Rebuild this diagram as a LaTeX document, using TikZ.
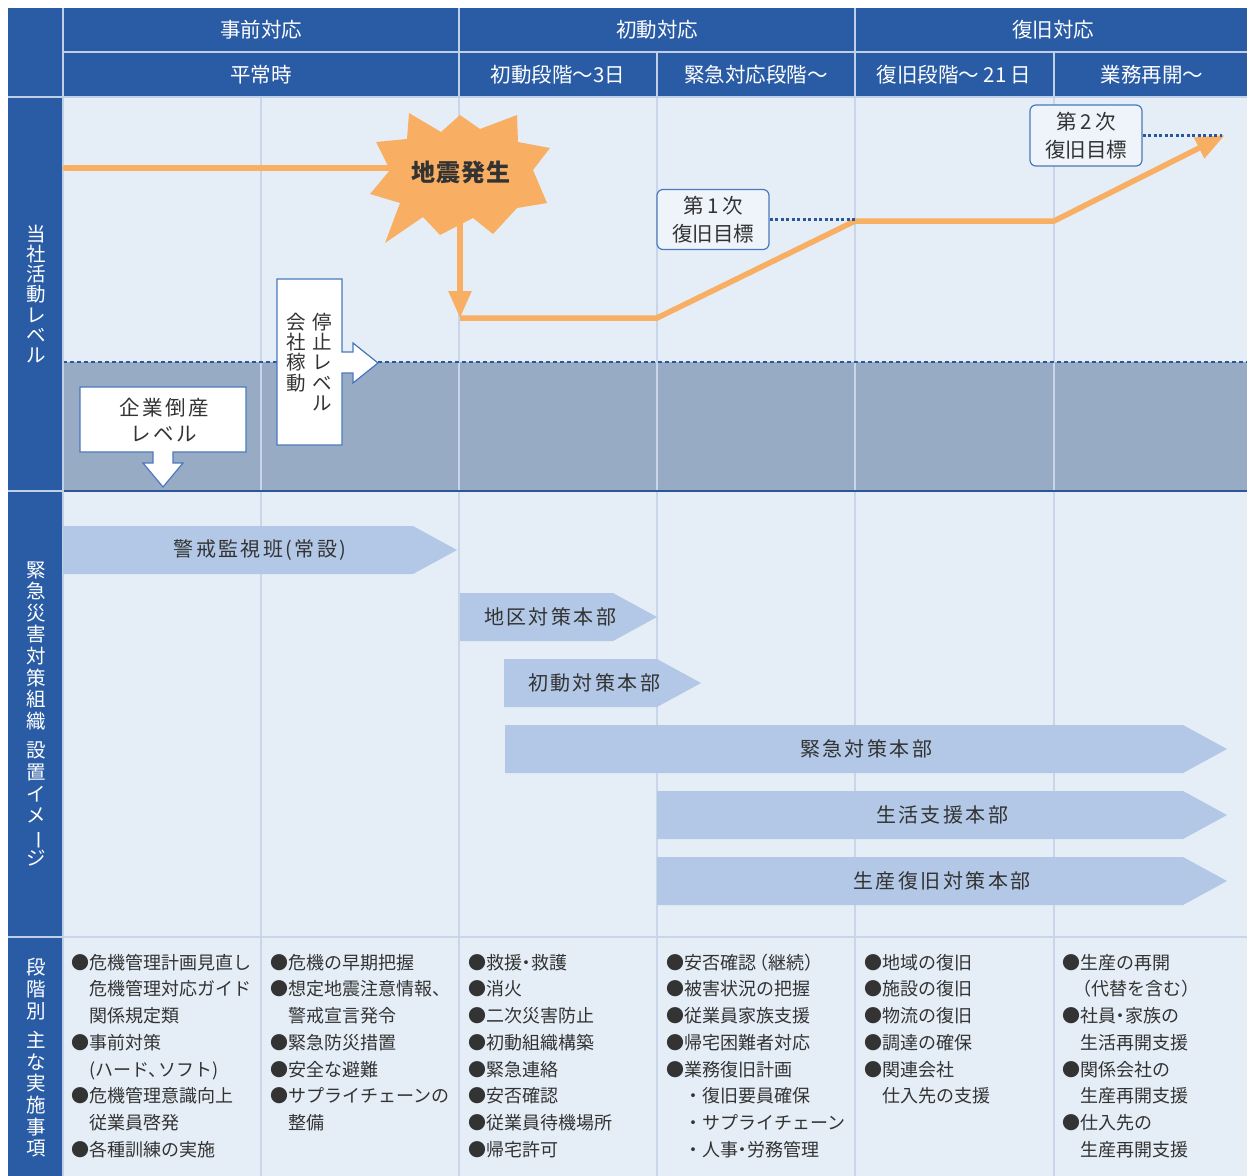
\documentclass[tikz,border=0pt]{standalone}
\usepackage{fontspec}
\setmainfont{Noto Sans CJK JP}
\newfontfamily\jpspaced{Noto Sans CJK JP}[LetterSpace=12]
\usetikzlibrary{arrows.meta}
\definecolor{hdrblue}{HTML}{2A5CA6}
\definecolor{bodybg}{HTML}{E5EEF7}
\definecolor{bandc}{HTML}{98ABC5}
\definecolor{orangec}{HTML}{F8AE63}
\definecolor{arrowblue}{HTML}{B2C8E6}
\definecolor{gridc}{HTML}{C9D5E8}
\definecolor{hsepc}{HTML}{BFD0E8}
\definecolor{txtc}{HTML}{333333}
\definecolor{boxline}{HTML}{4A78BC}
\definecolor{dotblue}{HTML}{2A5799}
\definecolor{calloutfill}{HTML}{EFF4FA}
\tikzset{
  hdr/.style={text=white, inner sep=0, font={\fontsize{20.5bp}{24bp}\selectfont}},
  sidelabel/.style={text=white, align=center, inner sep=0},
  items/.style={anchor=north west, align=left, inner sep=0, text=txtc, font={\fontsize{18bp}{26.7bp}\selectfont}},
  orglabel/.style={text=txtc, inner sep=0, font={\jpspaced\fontsize{20bp}{24bp}\selectfont}},
  callout/.style={draw=boxline, line width=1.2bp, fill=calloutfill, rounded corners=6bp,
    minimum width=112bp, minimum height=60bp, align=center, inner sep=0, text=txtc,
    font={\fontsize{20.5bp}{28bp}\selectfont}},
  orangeline/.style={draw=orangec, line width=5.5bp},
  gridline/.style={draw=gridc, line width=1.3bp},
  hsep/.style={draw=hsepc, line width=1.2bp},
  whitebox/.style={draw=boxline, line width=1.2bp, fill=white},
  dotconn/.style={draw=dotblue, line width=2.2bp, dash pattern=on 3bp off 2.5bp},
}
\newcommand\OrgArrow[6]{% name, x-start, x-tip, y-top, text-x, text
  \fill[arrowblue] (#2,#4) -- ({#3-44},#4) -- (#3,{#4+24}) -- ({#3-44},{#4+48}) -- (#2,{#4+48}) -- cycle;
  \node[orglabel] (#1) at (#5,{#4+24}) {#6};}
\newcommand\VBar{\smash{\rotatebox[origin=c]{-90}{ー}}}
\newcommand\ndot{\kern-.25em・\kern-.25em}
\begin{document}
\begin{tikzpicture}[x=1bp,y=-1bp]
\useasboundingbox (0,0) rectangle (1247,1176);
\fill[white] (0,0) rectangle (1247,1176);
% body
\fill[bodybg] (63,97) rectangle (1247,1176);
\fill[bandc] (63,362) rectangle (1247,491);
\foreach \gx in {261,459,657,855,1054} \draw[gridline] (\gx,97) -- (\gx,1176);
\draw[gridline, line width=1.6bp] (63,937) -- (1247,937);
\draw[dotblue, line width=2.2bp, dash pattern=on 4bp off 3bp] (63,362) -- (1247,362);
\draw[dotblue, line width=2bp] (63,491) -- (1247,491);
% header + side column
\fill[hdrblue] (8,8) rectangle (1247,97);
\fill[hdrblue] (8,97) rectangle (63,1176);
\draw[hsep] (63,52) -- (1247,52);
\draw[hsep] (8,97) -- (1247,97);
\draw[hsep] (63,8) -- (63,1176);
\draw[hsep] (459,8) -- (459,97);
\draw[hsep] (855,8) -- (855,97);
\draw[hsep] (657,52) -- (657,97);
\draw[hsep] (1054,52) -- (1054,97);
\draw[hsep] (8,491) -- (63,491);
\draw[hsep] (8,937) -- (63,937);
\node[hdr] (h1) at (261,30) {事前対応};
\node[hdr] (h2) at (657,30) {初動対応};
\node[hdr] (h3) at (1053,30) {復旧対応};
\node[hdr] (s1) at (261,75) {平常時};
\node[hdr] (s2) at (558,75) {初動段階〜3日};
\node[hdr] (s3) at (756,75) {緊急対応段階〜};
\node[hdr] (s4) at (954,75) {復旧段階〜 21 日};
\node[hdr] (s5) at (1152,75) {業務再開〜};
\node[sidelabel, font={\fontsize{19.5bp}{20.3bp}\selectfont}] (sl1) at (36,294) {当\\社\\活\\動\\レ\\ベ\\ル};
\node[sidelabel, font={\fontsize{19.5bp}{21.6bp}\selectfont}] (sl2) at (36,714) {緊\\急\\災\\害\\対\\策\\組\\織\\[8bp]設\\置\\イ\\メ\\\VBar\\ジ};
\node[sidelabel, font={\fontsize{19.5bp}{21.6bp}\selectfont}] (sl3) at (36,1058) {段\\階\\別\\[8bp]主\\な\\実\\施\\事\\項};
% activity level lines
\coordinate (start) at (65,168);
\coordinate (q) at (461,172);
\coordinate (p1) at (460,318);
\coordinate (p2) at (657,318);
\coordinate (p3) at (855,221);
\coordinate (p4) at (1054,221);
\coordinate (p5) at (1225,135);
\draw[orangeline, line cap=round] (start) -- (start -| q);
\draw[orangeline, -{Triangle[length=27bp,width=22bp]}] (q -| p1) -- (p1);
\draw[orangeline, -{Triangle[length=29bp,width=22bp]}] (p1) -- (p2) -- (p3) -- (p4) -- (p5);
\fill[orangec] (409,113) -- (441,132) -- (460,115) -- (480,129) -- (517,115) -- (518,142)
  -- (550,148) -- (533,170) -- (547,203) -- (517,208) -- (493,234) -- (473,218)
  -- (440,235) -- (423,217) -- (385,243) -- (400,203) -- (370,194) -- (390,170)
  -- (376,142) -- (407,139) -- cycle;
\node[text=txtc, inner sep=0, font={\bfseries\fontsize{24bp}{28bp}\selectfont\addfontfeatures{LetterSpace=5}}] (quake) at (q) {地震発生};
% callouts
\node[callout] (c1) at (713,219.5) {第\,1\,次\\復旧目標};
\node[callout, minimum height=61bp] (c2) at (1086,135.5) {第\,2\,次\\復旧目標};
\draw[dotconn] (c1.east) -- (c1.east -| p3);
\draw[dotconn] (c2.east) -- ([xshift=-3bp]c2.east -| p5);
% level boxes
\draw[whitebox] (277,279) -- (342,279) -- (342,352) -- (353,352) -- (353,343) -- (378,363)
  -- (353,383) -- (353,373) -- (342,373) -- (342,445) -- (277,445) -- cycle;
\node[text=txtc, inner sep=0, font={\fontsize{19.5bp}{20.3bp}\selectfont}] (lvl) at (309,362)
  {\parbox[t]{20bp}{\centering 会\\社\\稼\\動}\hspace{6bp}\parbox[t]{20bp}{\centering 停\\止\\レ\\ベ\\ル}};
\draw[whitebox] (80,387) -- (246,387) -- (246,452) -- (173,452) -- (173,463) -- (183,463)
  -- (163,487) -- (143,463) -- (153,463) -- (153,452) -- (80,452) -- cycle;
\node[text=txtc, inner sep=0, align=center, font={\jpspaced\fontsize{20.5bp}{26bp}\selectfont}] (bk) at (164,420) {企業倒産\\レベル};
% organisation arrows
\OrgArrow{o1}{63}{457}{526}{260}{警戒監視班(常設)}
\OrgArrow{o2}{460}{657}{593}{550}{地区対策本部}
\OrgArrow{o3}{504}{701}{659}{594}{初動対策本部}
\OrgArrow{o4}{505}{1227}{725}{866}{緊急対策本部}
\OrgArrow{o5}{657}{1227}{791}{942}{生活支援本部}
\OrgArrow{o6}{657}{1227}{857}{942}{生産復旧対策本部}
% items
\node[items] (it1) at (71,952) {\rule{0pt}{17bp}●危機管理計画見直し\\\hspace*{1em}危機管理対応ガイド\\\hspace*{1em}関係規定類\\●事前対策\\\hspace*{1em}(ハード、\kern-.45emソフト)\\●危機管理意識向上\\\hspace*{1em}従業員啓発\\●各種訓練の実施};
\node[items] (it2) at (270,952) {\rule{0pt}{17bp}●危機の早期把握\\●想定地震注意情報、\\\hspace*{1em}警戒宣言発令\\●緊急防災措置\\●安全な避難\\●サプライチェーンの\\\hspace*{1em}整備};
\node[items] (it3) at (468,952) {\rule{0pt}{17bp}●救援\ndot 救護\\●消火\\●二次災害防止\\●初動組織構築\\●緊急連絡\\●安否確認\\●従業員待機場所\\●帰宅許可};
\node[items] (it4) at (666,952) {\rule{0pt}{17bp}●安否確認\kern-.3em（継続）\\●被害状況の把握\\●従業員家族支援\\●帰宅困難者対応\\●業務復旧計画\\\hspace*{1em}・復旧要員確保\\\hspace*{1em}・サプライチェーン\\\hspace*{1em}・人事\ndot 労務管理};
\node[items] (it5) at (864,952) {\rule{0pt}{17bp}●地域の復旧\\●施設の復旧\\●物流の復旧\\●調達の確保\\●関連会社\\\hspace*{1em}仕入先の支援};
\node[items] (it6) at (1062,952) {\rule{0pt}{17bp}●生産の再開\\\hspace*{0.6em}（代替を含む）\\●社員\ndot 家族の\\\hspace*{1em}生活再開支援\\●関係会社の\\\hspace*{1em}生産再開支援\\●仕入先の\\\hspace*{1em}生産再開支援};
\end{tikzpicture}
\end{document}
